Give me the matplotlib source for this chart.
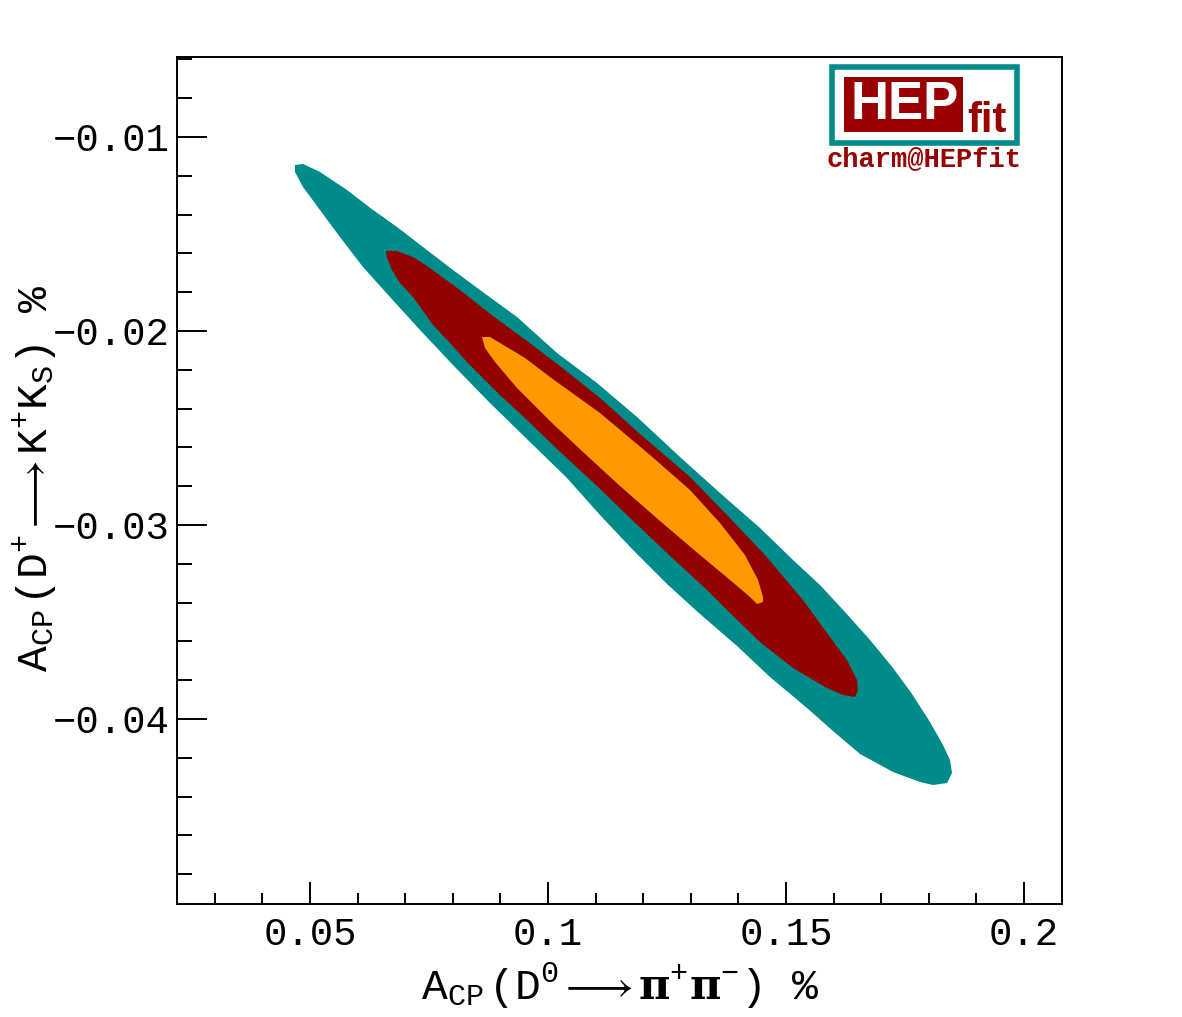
import matplotlib
matplotlib.use("Agg")
import matplotlib.pyplot as plt
from matplotlib.patches import Rectangle
from matplotlib.ticker import FixedLocator, FixedFormatter, MultipleLocator

plt.rcParams['font.family'] = ['Liberation Mono', 'DejaVu Sans']
plt.rcParams['mathtext.fontset'] = 'custom'
plt.rcParams['mathtext.rm'] = 'Liberation Mono'
plt.rcParams['mathtext.it'] = 'Liberation Mono'
plt.rcParams['mathtext.bf'] = 'DejaVu Serif:bold'

# contour boundaries (A_CP pi+pi- , A_CP K+Ks) in %
# outer region (teal)
x_outer = [0.04685, 0.04853, 0.05210, 0.05777, 0.06324, 0.06828, 0.07374, 0.08004,
           0.08571, 0.09349, 0.10189, 0.11029, 0.11870, 0.12773, 0.13613, 0.14454,
           0.15147, 0.15714, 0.16239, 0.16765, 0.17248, 0.17647, 0.18025, 0.18298,
           0.18445, 0.18487, 0.18382, 0.18088, 0.17815, 0.17248, 0.16555, 0.15987,
           0.15441, 0.14664, 0.13971, 0.13193, 0.12500, 0.11786, 0.11092, 0.10399,
           0.09622, 0.08781, 0.08004, 0.07311, 0.06681, 0.06113, 0.05630, 0.05210,
           0.04853, 0.04685]
y_outer = [-0.011443, -0.011392, -0.011804, -0.012732, -0.013763, -0.014639, -0.015670, -0.016856,
           -0.017887, -0.019278, -0.021134, -0.022680, -0.024433, -0.026495, -0.028351, -0.030155,
           -0.031804, -0.033093, -0.034485, -0.035928, -0.037371, -0.038711, -0.040155, -0.041340,
           -0.042113, -0.042784, -0.043299, -0.043402, -0.043247, -0.042732, -0.041804, -0.040619,
           -0.039433, -0.037835, -0.036237, -0.034588, -0.033041, -0.031289, -0.029485, -0.027577,
           -0.025722, -0.023711, -0.021753, -0.019948, -0.018247, -0.016701, -0.015155, -0.013763,
           -0.012577, -0.011804]

# middle region (dark red)
x_mid = [0.06597, 0.06828, 0.07164, 0.07458, 0.08151, 0.08844, 0.09559, 0.10252,
         0.11092, 0.11933, 0.12983, 0.13760, 0.14559, 0.15357, 0.15861, 0.16281,
         0.16491, 0.16512, 0.16449, 0.16197, 0.15861, 0.15147, 0.14454, 0.13824,
         0.13340, 0.12500, 0.11723, 0.11029, 0.10189, 0.09559, 0.08991, 0.08298,
         0.07941, 0.07584, 0.07164, 0.06891, 0.06723, 0.06618]
y_mid = [-0.015876, -0.015876, -0.016186, -0.016649, -0.017887, -0.019227, -0.020515, -0.021804,
         -0.023454, -0.025309, -0.027526, -0.029485, -0.031546, -0.033866, -0.035567, -0.036959,
         -0.037990, -0.038505, -0.038866, -0.038763, -0.038402, -0.037371, -0.036031, -0.034536,
         -0.033351, -0.031443, -0.029639, -0.027990, -0.026082, -0.024588, -0.023299, -0.021598,
         -0.020619, -0.019691, -0.018247, -0.017526, -0.016856, -0.016237]

# inner region (orange)
x_in = [0.08613, 0.08781, 0.08992, 0.09517, 0.10042, 0.11092, 0.12143, 0.12983,
        0.13613, 0.14138, 0.14412, 0.14517, 0.14517, 0.14391, 0.14244, 0.13824,
        0.13193, 0.12353, 0.11513, 0.10735, 0.10042, 0.09349, 0.08887, 0.08676]
y_in = [-0.020309, -0.020309, -0.020619, -0.021392, -0.022371, -0.024227, -0.026392, -0.028196,
        -0.029897, -0.031546, -0.032835, -0.033711, -0.033969, -0.034072, -0.033711, -0.032835,
        -0.031546, -0.029794, -0.027990, -0.026237, -0.024639, -0.022938, -0.021598, -0.020876]

xticks = [0.05, 0.1, 0.15, 0.2]
xticklabels = ['0.05', '0.1', '0.15', '0.2']
yticks = [-0.04, -0.03, -0.02, -0.01]
yticklabels = ['\u22120.04', '\u22120.03', '\u22120.02', '\u22120.01']

teal = '#008b8b'
dred = '#930000'
orange = '#ff9900'

fig = plt.figure(figsize=(11.82, 10.17), dpi=100)
ax = fig.add_axes([0.1497, 0.1111, 0.7488, 0.8329])

ax.fill(x_outer, y_outer, color=teal, lw=0)
ax.fill(x_mid, y_mid, color=dred, lw=0)
ax.fill(x_in, y_in, color=orange, lw=0)

ax.set_xlim(0.02206, 0.20798)
ax.set_ylim(-0.049536, -0.005876)

ax.xaxis.set_major_locator(FixedLocator(xticks))
ax.xaxis.set_major_formatter(FixedFormatter(xticklabels))
ax.xaxis.set_minor_locator(MultipleLocator(0.01))
ax.yaxis.set_major_locator(FixedLocator(yticks))
ax.yaxis.set_major_formatter(FixedFormatter(yticklabels))
ax.yaxis.set_minor_locator(MultipleLocator(0.002))

ax.tick_params(which='both', direction='in', top=False, right=False, width=1.4, labelsize=28)
ax.tick_params(axis='x', which='major', length=15.8, pad=9)
ax.tick_params(axis='x', which='minor', length=7.9)
ax.tick_params(axis='y', which='major', length=21.6, pad=5)
ax.tick_params(axis='y', which='minor', length=10.8)
for s in ax.spines.values():
    s.set_linewidth(1.4)

# axis titles
fig.text(620 / 1182, 1 - 1000 / 1017,
         r'A$_{\mathregular{CP}}\,$(D$^{\mathregular{0}}$$\longrightarrow\mathbf{\pi}^{+}\mathbf{\pi}^{-}$) %',
         fontsize=31, ha='center', va='baseline')
fig.text(35 / 1182, 1 - 478 / 1017,
         r'A$_{\mathregular{CP}}\,$(D$^{+}$$\longrightarrow$K$^{+}$K$_{\mathregular{S}}$) %',
         fontsize=31, ha='center', va='center', rotation=90)

# HEPfit logo
logo_red = '#990000'
fig.patches.append(Rectangle((832 / 1182, 1 - 143 / 1017), 185 / 1182, 76 / 1017,
                             transform=fig.transFigure, fill=False, ec=teal, lw=4))
fig.patches.append(Rectangle((844 / 1182, 1 - 132 / 1017), 119 / 1182, 55 / 1017,
                             transform=fig.transFigure, fc=logo_red, ec='none'))
fig.text(905 / 1182, 1 - 105 / 1017, 'HEP', family='Liberation Sans', weight='bold',
         color='white', fontsize=38, ha='center', va='center')
fig.text(987 / 1182, 1 - 132 / 1017, 'fit', family='Liberation Sans', weight='bold',
         color=logo_red, fontsize=30, ha='center', va='baseline')
fig.text(924 / 1182, 1 - 160 / 1017, 'charm@HEPfit', family='Liberation Mono', weight='bold',
         color=logo_red, fontsize=19.5, ha='center', va='center')

fig.savefig('out.png', dpi=100)
